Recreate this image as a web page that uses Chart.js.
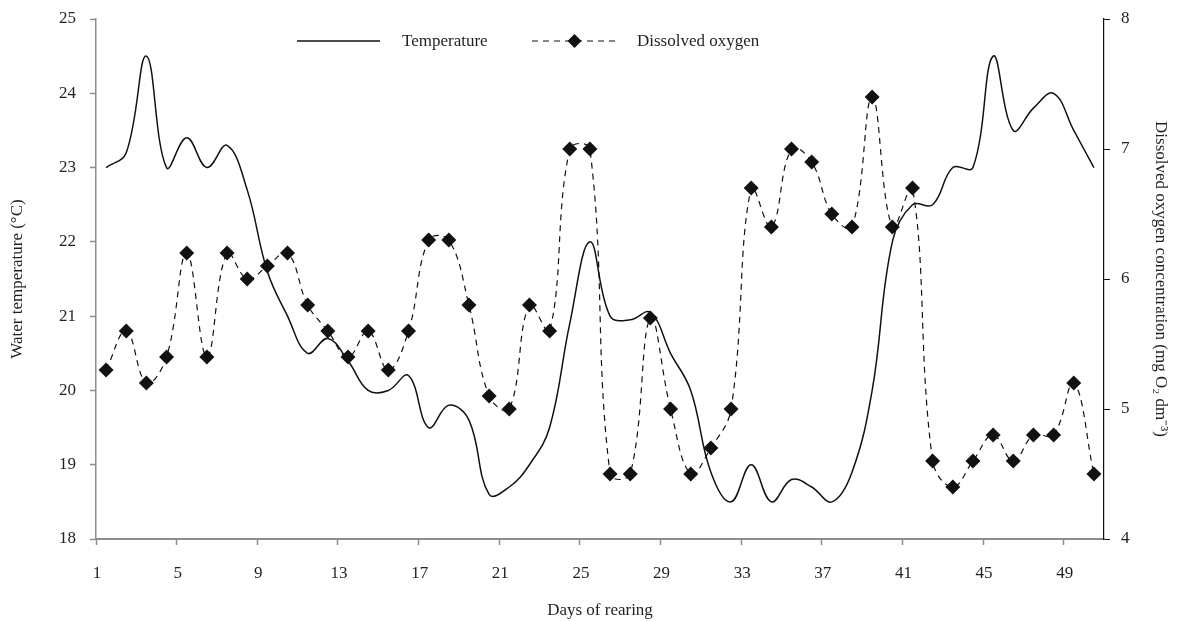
<!DOCTYPE html>
<html lang="en">
<head>
    <meta charset="UTF-8">
    <title>Water temperature and dissolved oxygen</title>
    <style>
        html, body {
            margin: 0;
            padding: 0;
            background-color: #fff;
        }
        .chart-container {
            width: 1181px;
            height: 621px;
        }
    </style>
</head>
<body>
    <div class="chart-container">
        <canvas id="rearingChart"></canvas>
    </div>

    <script src="https://cdn.jsdelivr.net/npm/chart.js"></script>
    <script>
        // days of rearing (categories)
        const days = [
            1, 2, 3, 4, 5, 6, 7, 8, 9, 10,
            11, 12, 13, 14, 15, 16, 17, 18, 19, 20,
            21, 22, 23, 24, 25, 26, 27, 28, 29, 30,
            31, 32, 33, 34, 35, 36, 37, 38, 39, 40,
            41, 42, 43, 44, 45, 46, 47, 48, 49, 50
        ];

        // water temperature, °C (left axis)
        const temperature = [
            23.0, 23.2, 24.5, 23.0, 23.4, 23.0, 23.3, 22.7, 21.6, 21.0,
            20.5, 20.7, 20.4, 20.0, 20.0, 20.2, 19.5, 19.8, 19.6, 18.6,
            18.7, 19.0, 19.5, 20.9, 22.0, 21.0, 20.95, 21.05, 20.5, 20.0,
            18.9, 18.5, 19.0, 18.5, 18.8, 18.7, 18.5, 18.9, 20.0, 22.0,
            22.5, 22.5, 23.0, 23.0, 24.5, 23.5, 23.8, 24.0, 23.5, 23.0
        ];

        // dissolved oxygen, mg O2 dm-3 (right axis)
        const dissolvedOxygen = [
            5.3, 5.6, 5.2, 5.4, 6.2, 5.4, 6.2, 6.0, 6.1, 6.2,
            5.8, 5.6, 5.4, 5.6, 5.3, 5.6, 6.3, 6.3, 5.8, 5.1,
            5.0, 5.8, 5.6, 7.0, 7.0, 4.5, 4.5, 5.7, 5.0, 4.5,
            4.7, 5.0, 6.7, 6.4, 7.0, 6.9, 6.5, 6.4, 7.4, 6.4,
            6.7, 4.6, 4.4, 4.6, 4.8, 4.6, 4.8, 4.8, 5.2, 4.5
        ];

        const labelEvery = 4;
        const fontFamily = '"Liberation Serif", "Times New Roman", serif';
        const textColor = '#231f20';
        const axisGray = '#8c8c8c';

        // legend drawn by hand: solid line / dashed line with diamond
        const legendPlugin = {
            id: 'lineLegend',
            afterDraw(chart) {
                const c = chart.ctx;
                const left = chart.chartArea.left;
                const y = chart.chartArea.top + 22;
                c.save();
                c.font = '17px ' + fontFamily;
                c.fillStyle = textColor;
                c.textBaseline = 'middle';
                c.textAlign = 'left';

                // Temperature
                c.strokeStyle = '#111';
                c.lineWidth = 1.5;
                c.setLineDash([]);
                c.beginPath();
                c.moveTo(left + 201, y);
                c.lineTo(left + 284, y);
                c.stroke();
                c.fillText('Temperature', left + 306, y + 1);

                // Dissolved oxygen
                c.lineWidth = 1.2;
                c.setLineDash([6, 5]);
                c.beginPath();
                c.moveTo(left + 436, y);
                c.lineTo(left + 521, y);
                c.stroke();
                c.setLineDash([]);
                const dx = left + 478.5, r = 7;
                c.fillStyle = '#111';
                c.beginPath();
                c.moveTo(dx, y - r);
                c.lineTo(dx + r, y);
                c.lineTo(dx, y + r);
                c.lineTo(dx - r, y);
                c.closePath();
                c.fill();
                c.fillStyle = textColor;
                c.fillText('Dissolved oxygen', left + 541, y + 1);
                c.restore();
            }
        };

        // keep tick labels from pushing the plot area down
        function fitVertical(width) {
            return function (scale) {
                scale.width = width;
                scale.paddingTop = 0;
                scale.paddingBottom = 0;
            };
        }

        const ctx = document.getElementById('rearingChart').getContext('2d');
        const rearingChart = new Chart(ctx, {
            type: 'line',
            data: {
                labels: days,
                datasets: [{
                    label: 'Temperature',
                    data: temperature,
                    yAxisID: 'y',
                    borderColor: '#111',
                    borderWidth: 1.5,
                    pointRadius: 0,
                    tension: 0.4,
                    fill: false
                }, {
                    label: 'Dissolved oxygen',
                    data: dissolvedOxygen,
                    yAxisID: 'y1',
                    borderColor: '#111',
                    borderWidth: 1.2,
                    borderDash: [6, 5],
                    pointStyle: 'rectRot',
                    pointRadius: 7.5,
                    pointBackgroundColor: '#111',
                    pointBorderColor: '#111',
                    pointBorderWidth: 0,
                    tension: 0.4,
                    fill: false
                }]
            },
            options: {
                responsive: true,
                maintainAspectRatio: false,
                animation: false,
                layout: {
                    padding: { top: 19, left: 0, right: 0, bottom: 0 }
                },
                plugins: {
                    legend: { display: false },
                    tooltip: { enabled: false }
                },
                scales: {
                    x: {
                        type: 'category',
                        offset: true,
                        afterFit(scale) { scale.height = 82; },
                        grid: {
                            offset: true,
                            drawOnChartArea: false,
                            tickLength: 6,
                            tickWidth: 1.5,
                            tickColor: (c) => c.index % labelEvery === 0 ? axisGray : 'rgba(0,0,0,0)'
                        },
                        border: { color: axisGray, width: 2 },
                        ticks: {
                            autoSkip: false,
                            maxRotation: 0,
                            padding: 18,
                            labelOffset: -9,
                            color: textColor,
                            font: { family: fontFamily, size: 17 },
                            callback: function (value, index) {
                                return index % labelEvery === 0 ? this.getLabelForValue(value) : '';
                            }
                        },
                        title: {
                            display: true,
                            text: 'Days of rearing',
                            color: textColor,
                            font: { family: fontFamily, size: 17 },
                            padding: { top: 0, bottom: 0 }
                        }
                    },
                    y: {
                        position: 'left',
                        min: 18,
                        max: 25,
                        afterFit: fitVertical(96),
                        grid: {
                            drawOnChartArea: false,
                            tickLength: 6,
                            tickColor: axisGray,
                            tickWidth: 1.5
                        },
                        border: { color: axisGray, width: 1.5 },
                        ticks: {
                            stepSize: 1,
                            padding: 14,
                            color: textColor,
                            font: { family: fontFamily, size: 17 }
                        },
                        title: {
                            display: true,
                            text: 'Water temperature (°C)',
                            color: textColor,
                            font: { family: fontFamily, size: 17 },
                            padding: { top: 7, bottom: 0 }
                        }
                    },
                    y1: {
                        position: 'right',
                        min: 4,
                        max: 8,
                        afterFit: fitVertical(77),
                        grid: {
                            drawOnChartArea: false,
                            tickLength: 6,
                            tickColor: '#111',
                            tickWidth: 1
                        },
                        border: { color: '#111', width: 1.2 },
                        ticks: {
                            stepSize: 1,
                            padding: 11,
                            color: textColor,
                            font: { family: fontFamily, size: 17 }
                        },
                        title: {
                            display: true,
                            text: 'Dissolved oxygen concentration (mg O₂ dm⁻³)',
                            color: textColor,
                            font: { family: fontFamily, size: 17 },
                            padding: { top: 10, bottom: 0 }
                        }
                    }
                }
            },
            plugins: [legendPlugin]
        });
    </script>
</body>
</html>
